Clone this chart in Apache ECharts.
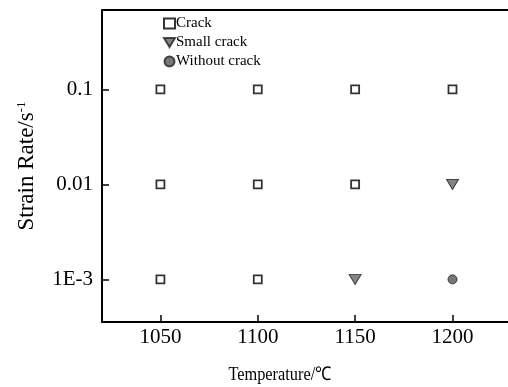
<!DOCTYPE html>
<html><head><meta charset="utf-8">
<script src="https://cdn.jsdelivr.net/npm/echarts@6/dist/echarts.min.js"></script>
<style>html,body{margin:0;padding:0;background:#fff}#c{width:508px;height:387px}</style>
</head><body><div id="c"></div>
<script>
const temperatures = [1050, 1100, 1150, 1200];
const strainRates = [0.1, 0.01, 0.001];
const rateLabels = ['0.1', '0.01', '1E-3'];
// points [temperature, strain rate]
const crackPoints = [[1050,0.1],[1100,0.1],[1150,0.1],[1200,0.1],[1050,0.01],[1100,0.01],[1150,0.01],[1050,0.001],[1100,0.001]];
const smallCrackPoints = [[1200,0.01],[1150,0.001]];
const withoutCrackPoints = [[1200,0.001]];
const xTitle = 'Temperature/℃';

const lg = v => Math.log10(v);
const toXY = pts => pts.map(p => [p[0], lg(p[1])]);
const font = 'Liberation Serif, Times New Roman, serif';
const tri = 'path://M0,0 L12,0 L6,10 Z';

const chart = echarts.init(document.getElementById('c'), null, {renderer:'canvas'});
chart.setOption({
  animation:false,
  backgroundColor:'#fff',
  textStyle:{fontFamily:font},
  grid:{left:102, right:0, top:10, bottom:65},
  legend:{
    orient:'vertical', left:158, top:11, itemGap:4, itemWidth:11, itemHeight:10,
    textStyle:{fontFamily:font, fontSize:15, color:'#000', padding:[0,0,0,-4]},
    data:[
      {name:'Crack', icon:'rect', itemStyle:{borderWidth:2}},
      {name:'Small crack', icon:tri},
      {name:'Without crack', icon:'circle'}
    ]
  },
  xAxis:{
    type:'value', min:1020, max:1228.5,
    axisLine:{show:true, lineStyle:{color:'#000', width:2}},
    axisTick:{show:true, inside:true, length:7, lineStyle:{color:'#000', width:1.5}, customValues:temperatures},
    axisLabel:{fontFamily:font, fontSize:21, color:'#000', margin:5, customValues:temperatures,
      formatter:v => String(v)},
    splitLine:{show:false}
  },
  yAxis:[{
    type:'value', min:-3.449, max:-0.163,
    name:'{a|Strain Rate/s}{b|-1}', nameLocation:'middle', nameGap:64,
    nameTextStyle:{fontFamily:font, color:'#000',
      rich:{a:{fontFamily:font, fontSize:23, color:'#000'}, b:{fontFamily:font, fontSize:13, color:'#000', verticalAlign:'top', padding:[0,0,10,0]}}},
    axisLine:{show:true, onZero:false, lineStyle:{color:'#000', width:2}},
    axisTick:{show:true, inside:true, length:7, lineStyle:{color:'#000', width:1.5}, customValues:strainRates.map(lg)},
    axisLabel:{fontFamily:font, fontSize:21, color:'#000', margin:9, customValues:strainRates.map(lg),
      formatter:v => { const i = strainRates.findIndex(r => Math.abs(lg(r)-v) < 1e-6); return i>=0 ? rateLabels[i] : ''; }},
    splitLine:{show:false}
  }],
  graphic:[
    {type:'line', shape:{x1:102, y1:10, x2:508, y2:10}, style:{stroke:'#000', lineWidth:2}},
    {type:'text', x:280, y:375, scaleX:0.86, originX:0, style:{text:xTitle, font:'19px ' + font, fill:'#000', align:'center', verticalAlign:'middle'}}
  ],
  series:[
    {name:'Crack', type:'scatter', symbol:'rect', symbolSize:8, data:toXY(crackPoints),
     itemStyle:{color:'#fff', borderColor:'#000', borderWidth:1.8}},
    {name:'Small crack', type:'scatter', symbol:tri, symbolSize:[12,10], data:toXY(smallCrackPoints),
     itemStyle:{color:'#666', borderColor:'#222', borderWidth:1}},
    {name:'Without crack', type:'scatter', symbol:'circle', symbolSize:9, data:toXY(withoutCrackPoints),
     itemStyle:{color:'#555', borderColor:'#222', borderWidth:1}}
  ]
});
</script></body></html>
